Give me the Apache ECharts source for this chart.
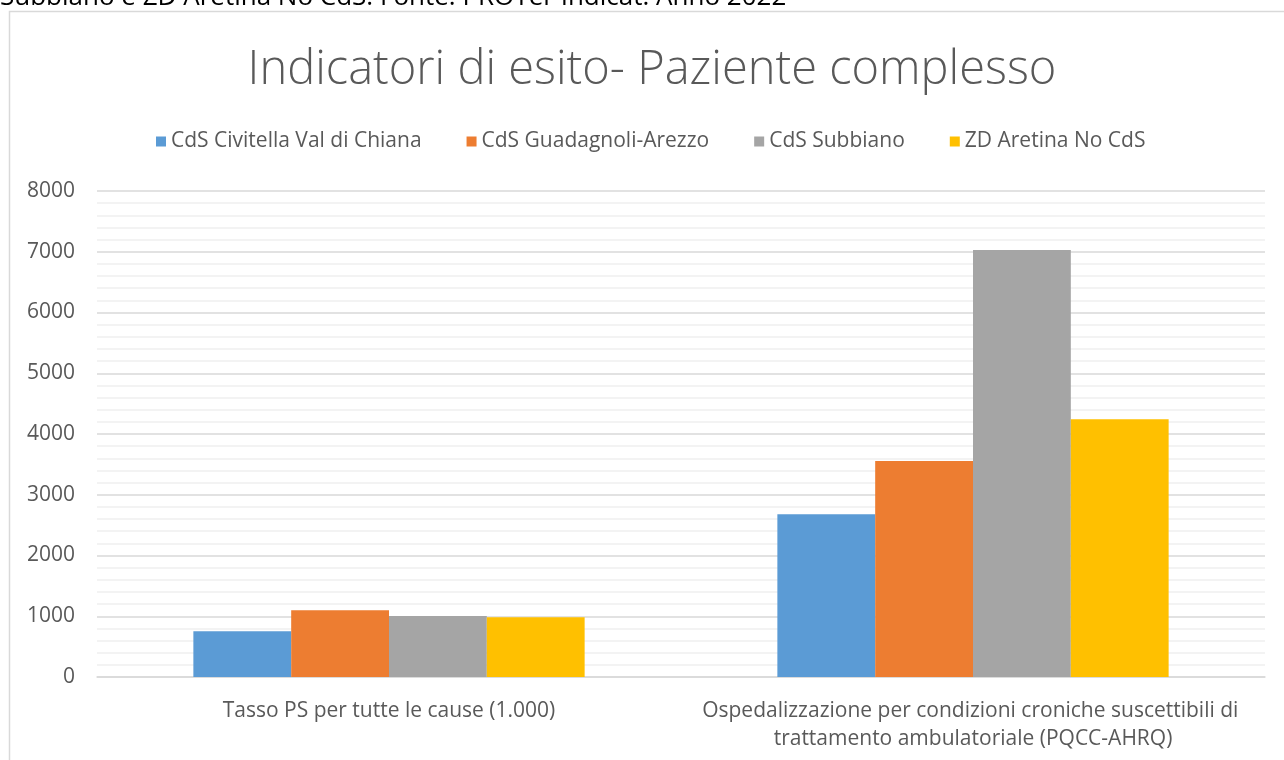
<!DOCTYPE html>
<html>
<head>
<meta charset="utf-8">
<script src="https://cdn.jsdelivr.net/npm/echarts@6/dist/echarts.min.js"></script>
<style>
  html, body { margin: 0; padding: 0; background: #fff; }
  #chart { width: 1284px; height: 760px; }
</style>
</head>
<body>
<div id="chart"></div>
<script>
const categories = [
  'Tasso PS per tutte le cause (1.000)',
  'Ospedalizzazione per condizioni croniche suscettibili di trattamento ambulatoriale (PQCC-AHRQ)'
]
const civitella = [752, 2680]
const guadagnoli = [1098, 3556]
const subbiano = [1004, 7029]
const aretina = [983, 4242]
const yTicks = [0, 1000, 2000, 3000, 4000, 5000, 6000, 7000, 8000]

const seriesNames = ['CdS Civitella Val di Chiana', 'CdS Guadagnoli-Arezzo', 'CdS Subbiano', 'ZD Aretina No CdS']
const colors = ['#5b9bd5', '#ed7d31', '#a5a5a5', '#ffc000']
const font = '"Open Sans", "Liberation Sans", sans-serif'

let myChart = echarts.init(document.getElementById('chart'))
let option = {
  color: colors,
  textStyle: { fontFamily: font },
  graphic: [
    {
      // cornice del grafico
      type: 'rect',
      shape: { x: 9.5, y: 11.5, width: 1400, height: 900 },
      style: { fill: 'none', stroke: '#d9d9d9', lineWidth: 1.5 },
      silent: true
    },
    {
      type: 'text',
      left: 0,
      top: -15,
      style: {
        text: 'Subbiano e ZD Aretina No CdS. Fonte: PROTer Indicat. Anno 2022',
        font: '26px ' + font,
        fill: '#000'
      }
    },
    {
      type: 'text',
      x: 652,
      y: 71,
      style: {
        text: 'Indicatori di esito- Paziente complesso',
        font: '300 47px ' + font,
        fill: '#595959',
        align: 'center',
        verticalAlign: 'middle'
      }
    }
  ],
  legend: {
    data: seriesNames,
    left: 156,
    top: 131,
    padding: 0,
    itemWidth: 10,
    itemHeight: 10,
    itemGap: 45,
    icon: 'rect',
    textStyle: { color: '#595959', fontSize: 21, fontFamily: font }
  },
  grid: {
    left: 97,
    right: 19,
    top: 191,
    bottom: 83,
    containLabel: false
  },
  xAxis: {
    type: 'category',
    data: categories,
    axisLine: { lineStyle: { color: '#d9d9d9', width: 1.5 } },
    axisTick: { show: false },
    axisLabel: {
      color: '#595959',
      fontSize: 21,
      margin: 20,
      lineHeight: 28,
      width: 570,
      overflow: 'break',
      interval: 0
    }
  },
  yAxis: {
    type: 'value',
    min: yTicks[0],
    max: yTicks[yTicks.length - 1],
    interval: 1000,
    axisLine: { show: false },
    axisTick: { show: false },
    axisLabel: { color: '#595959', fontSize: 21, margin: 22, formatter: v => String(v) },
    splitLine: { lineStyle: { color: '#d9d9d9', width: 1.5 } },
    minorTick: { show: false, splitNumber: 5 },
    minorSplitLine: { show: true, lineStyle: { color: '#f0f0f0', width: 1.5 } }
  },
  series: [
    { name: seriesNames[0], type: 'bar', data: civitella, barGap: '0%', barCategoryGap: '33%' },
    { name: seriesNames[1], type: 'bar', data: guadagnoli },
    { name: seriesNames[2], type: 'bar', data: subbiano },
    { name: seriesNames[3], type: 'bar', data: aretina }
  ]
}
myChart.setOption(option)
</script>
</body>
</html>
